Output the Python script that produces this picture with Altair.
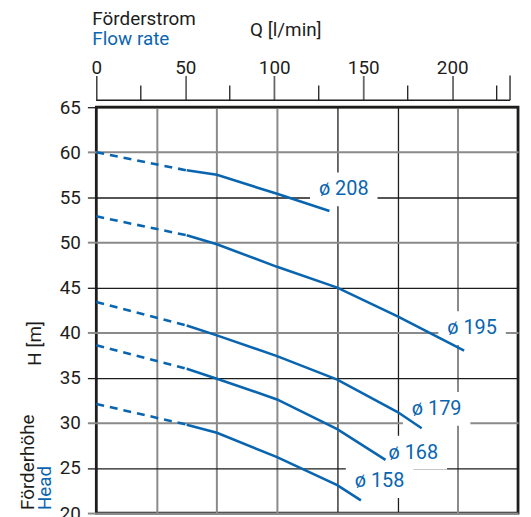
import altair as alt
import pandas as pd

BLUE = "#0a65b0"
INK = "#1d1d1b"
GREY = "#8a8a8a"
FONT = "Roboto"

# ---- data (flow Q in l/min, head H in m) ----
names = ["ø 208", "ø 195", "ø 179", "ø 168", "ø 158"]
q_208 = [0, 50, 66.7, 100, 129]
h_208 = [60.0, 58.0, 57.5, 55.4, 53.5]
q_195 = [0, 50, 66.7, 100, 133.3, 166.7, 203.5]
h_195 = [52.9, 50.8, 49.8, 47.3, 45.0, 41.8, 38.0]
q_179 = [0, 50, 66.7, 100, 133.3, 166.7, 180]
h_179 = [43.4, 40.8, 39.7, 37.4, 34.8, 31.2, 29.4]
q_168 = [0, 50, 66.7, 100, 133.3, 160]
h_168 = [38.6, 36.0, 34.9, 32.6, 29.3, 25.9]
q_158 = [0, 50, 66.7, 100, 133.3, 146.4]
h_158 = [32.1, 29.8, 28.9, 26.2, 23.1, 21.4]
dash_until = 50  # extrapolated (dashed) part of each curve

label_q = [136.9, 207.9, 188.3, 175.4, 156.7]
label_h = [55.9, 40.5, 31.55, 26.7, 23.55]

q_plot_max = 14 * 1000 / 60          # plot grid spans 0..14 m3/h
grid_q = [k * 2 * 1000 / 60 for k in range(1, 7)]  # every 2 m3/h
y_ticks = [20, 25, 30, 35, 40, 45, 50, 55, 60, 65]
top_major = [0, 50, 100, 150, 200]
top_minor = [25, 75, 125, 175, 225]
top_end = 232.5

curves = [(names[0], q_208, h_208), (names[1], q_195, h_195), (names[2], q_179, h_179),
          (names[3], q_168, h_168), (names[4], q_158, h_158)]
dash_rows, solid_rows = [], []
for n, qs, hs in curves:
    for q, h in zip(qs, hs):
        if q <= dash_until:
            dash_rows.append({"d": n, "q": q, "h": h})
        if q >= dash_until:
            solid_rows.append({"d": n, "q": q, "h": h})
df_dash = pd.DataFrame(dash_rows)
df_solid = pd.DataFrame(solid_rows)
df_lab = pd.DataFrame({"lab": names, "q": label_q, "h": label_h})

# ---- plot layer ----
x_plot = alt.X(
    "q:Q",
    scale=alt.Scale(domain=[0, q_plot_max], nice=False, zero=False),
    axis=alt.Axis(
        orient="bottom", values=grid_q, grid=True, labels=False, ticks=False,
        domain=False, title=None,
        gridColor={"condition": {"test": "datum.value < 120 || datum.value > 190", "value": GREY}, "value": INK},
        gridWidth={"condition": {"test": "datum.value < 120 || datum.value > 190", "value": 2}, "value": 1.3},
    ),
)
y_plot = alt.Y(
    "h:Q",
    scale=alt.Scale(domain=[20, 65], nice=False, zero=False),
    axis=alt.Axis(
        orient="left", values=y_ticks, grid=True, domain=False, title=None,
        tickSize=9,
        tickColor={"condition": {"test": "datum.value % 10 === 0", "value": GREY}, "value": INK},
        tickWidth={"condition": {"test": "datum.value % 10 === 0", "value": 2}, "value": 1.3},
        gridColor={"condition": {"test": "datum.value % 10 === 0", "value": GREY}, "value": INK},
        gridWidth={"condition": {"test": "datum.value % 10 === 0", "value": 2}, "value": 1.3},
        labelFont=FONT, labelFontSize=19, labelColor=INK, labelPadding=7,
        labelFlush=False,
    ),
)

dashed = alt.Chart(df_dash).mark_line(strokeDash=[8, 6], strokeWidth=2.6, color=BLUE).encode(
    x=x_plot, y=y_plot, detail="d:N")
solid = alt.Chart(df_solid).mark_line(strokeWidth=2.6, color=BLUE).encode(
    x=x_plot, y=y_plot, detail="d:N")
boxes = alt.Chart(df_lab).mark_rect(width=68, height=34, color="white").encode(x=x_plot, y=y_plot)
labels = alt.Chart(df_lab).mark_text(font=FONT, fontSize=20, color=BLUE).encode(
    x=x_plot, y=y_plot, text="lab:N")


def txt(s, x, y, color=INK, align="left", angle=0):
    return alt.Chart(pd.DataFrame({"t": [s]})).mark_text(
        font=FONT, fontSize=19, color=color, align=align, baseline="alphabetic", angle=angle
    ).encode(text="t:N", x=alt.value(x), y=alt.value(y))


titles = alt.layer(
    txt("Förderstrom", -4, -83),
    txt("Flow rate", -4, -63, color=BLUE),
    txt("Q [l/min]", 155, -72),
    txt("H [m]", -56, 238, align="center", angle=270),
    txt("Förderhöhe", -63, 406, angle=270),
    txt("Head", -46, 406, color=BLUE, angle=270),
)

plot_layer = alt.layer(boxes, dashed, solid, labels, titles)

# ---- top flow axis ----
x_top = alt.X(
    "q:Q",
    scale=alt.Scale(domain=[0, 237], nice=False, zero=False),
    axis=alt.Axis(
        orient="top", offset=7, values=top_major, tickSize=25,
        tickColor={"condition": {"test": "datum.value === 0", "value": INK}, "value": "#666666"},
        tickWidth={"condition": {"test": "datum.value === 0", "value": 1.3}, "value": 1.8},
        domain=False, grid=False, title=None, labelPadding=2, labelBaseline="alphabetic",
        labelFont=FONT, labelFontSize=19, labelColor=INK, labelFlush=False,
    ),
)
minor = alt.Chart(pd.DataFrame({"q": top_minor})).mark_rule(color=INK, strokeWidth=1.3).encode(
    x=x_top, y=alt.value(-7), y2=alt.value(-22))
endbar = alt.Chart(pd.DataFrame({"q": [top_end]})).mark_rule(color=INK, strokeWidth=1.3).encode(
    x=x_top, y=alt.value(-7), y2=alt.value(-32))
baseline = alt.Chart(pd.DataFrame({"q": [0], "q1": [top_end]})).mark_rule(color=INK, strokeWidth=1.5).encode(
    x=x_top, x2="q1:Q", y=alt.value(-7))
top_layer = alt.layer(minor, endbar, baseline)

chart = alt.layer(plot_layer, top_layer).resolve_scale(x="independent").properties(
    width=425, height=409,
    padding={"left": 89, "top": 98, "right": 5, "bottom": 2},
    autosize=alt.AutoSizeParams(type="none"),
).configure_view(stroke=INK, strokeWidth=2.8)

chart.save("out.html", embed_options={"renderer": "svg", "actions": False})
